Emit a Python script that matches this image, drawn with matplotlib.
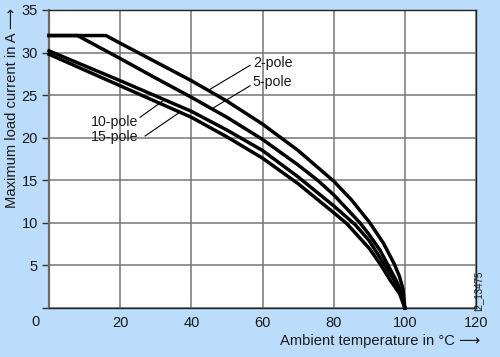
import matplotlib
matplotlib.use('Agg')
import matplotlib.pyplot as plt

plt.rcParams['font.family'] = ['Liberation Sans', 'DejaVu Sans']

#curve readings (temperature in C, current in A)
x_2pole = [0, 16, 20, 30, 40, 50, 60, 70, 80, 85, 90, 94, 97, 98.5, 99.5, 100]
y_2pole = [32, 32, 31.1, 28.9, 26.7, 24.3, 21.6, 18.5, 14.9, 12.7, 10.1, 7.6, 5.2, 3.7, 2.2, 0]

x_5pole = [0, 8, 20, 30, 40, 50, 60, 70, 75.5, 80, 87.4, 90, 93, 95.3, 97.5, 99, 100]
y_5pole = [32, 32, 29.3, 27.0, 24.75, 22.4, 19.8, 16.8, 15.0, 13.3, 10.0, 8.6, 6.8, 5.0, 3.3, 1.9, 0]

x_10pole = [0, 20, 40, 50, 60, 70, 80, 86, 90, 94.4, 97, 99, 100]
y_10pole = [30.2, 26.7, 23.1, 20.9, 18.5, 15.4, 12.0, 9.8, 7.9, 5.0, 3.3, 1.8, 0]

x_15pole = [0, 20, 40, 50, 60, 70, 80, 83.7, 90, 93, 96, 98.5, 100]
y_15pole = [29.8, 26.1, 22.4, 20.1, 17.6, 14.6, 11.2, 9.9, 7.0, 5.2, 3.2, 1.7, 0]

xticks = [0, 20, 40, 60, 80, 100, 120]
yticks = [0, 5, 10, 15, 20, 25, 30, 35]

bg = '#bcdcfb'
txt = '#1a1a1a'

fig = plt.figure(figsize=(5, 3.57), dpi=100, facecolor=bg)
ax = fig.add_axes([0.098, 0.1373, 0.854, 0.8347])
ax.set_facecolor('white')

ax.set_xlim(0, 120)
ax.set_ylim(0, 35)
ax.set_xticks(xticks)
ax.set_xticklabels([''] + [str(t) for t in xticks[1:]])
ax.set_yticks(yticks)
ax.set_yticklabels([''] + [str(t) for t in yticks[1:]])
ax.set_xticks([0], minor=True)

ax.grid(True, color='#767676', linewidth=1.1)
ax.set_axisbelow(True)

ax.tick_params(axis='x', which='major', length=0, pad=6, labelsize=10.5, labelcolor=txt)
ax.tick_params(axis='x', which='minor', length=4, width=1.5, color='#6a6a6a', direction='out')
ax.tick_params(axis='y', length=5, width=1, color='#333333', pad=3, labelsize=10.5, labelcolor=txt)

ax.spines['left'].set_color('#6a6a6a')
ax.spines['left'].set_linewidth(1.6)
for s in ['top', 'right', 'bottom']:
    ax.spines[s].set_color('#222222')
    ax.spines[s].set_linewidth(1.0)

for xs, ys in [(x_2pole, y_2pole), (x_5pole, y_5pole), (x_10pole, y_10pole), (x_15pole, y_15pole)]:
    ax.plot(xs, ys, color='black', linewidth=2.5, solid_joinstyle='round', clip_on=False, zorder=3)

#curve labels with leader lines
lead = dict(color='black', linewidth=0.8, zorder=4)
ax.plot([44.9, 56.5], [25.6, 28.5], **lead)
ax.plot([45.8, 56.5], [23.4, 26.1], **lead)
ax.plot([25.6, 32.6], [22.4, 24.5], **lead)
ax.plot([27.0, 36.8], [20.2, 23.0], **lead)

lbl = dict(fontsize=10.2, color=txt, va='center', zorder=5)
ax.text(57.3, 28.8, '2-pole', ha='left', **lbl)
ax.text(57.3, 26.5, '5-pole', ha='left', **lbl)
ax.text(25.0, 21.8, '10-pole', ha='right', **lbl)
ax.text(25.0, 20.1, '15-pole', ha='right', **lbl)

#origin label sits left of the corner
ax.text(-3.9, -1.65, '0', fontsize=10.5, color=txt, ha='center', va='center', clip_on=False)

fig.text(0.96, 0.045, 'Ambient temperature in °C ⟶', fontsize=10.6, color=txt, ha='right', va='center')
fig.text(0.024, 0.978, 'Maximum load current in A ⟶', fontsize=10.6, color=txt, rotation=90,
         ha='center', va='top')
fig.text(0.957, 0.185, 'I2_13475', fontsize=7, color=txt, rotation=90, ha='center', va='center')

fig.savefig('out.png', dpi=100, facecolor=bg)
